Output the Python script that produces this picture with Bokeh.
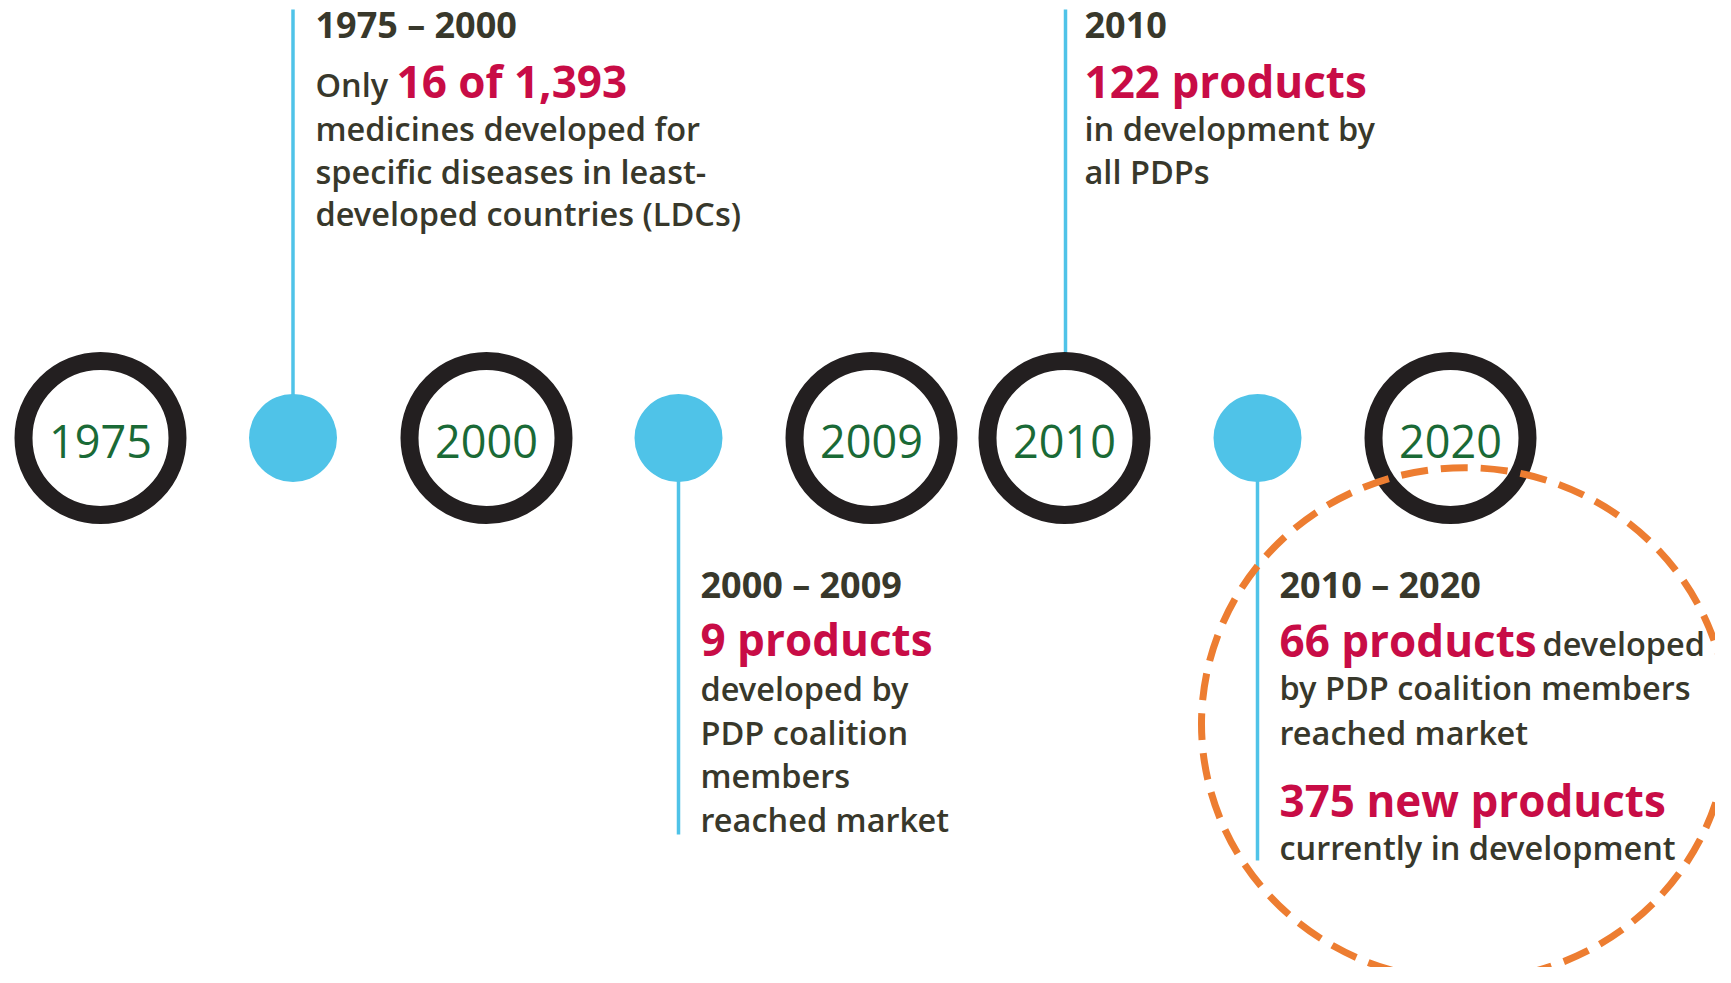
from bokeh.plotting import figure
from bokeh.models import Range1d, ColumnDataSource
from bokeh.core.properties import value
from bokeh.embed import file_html
from bokeh.resources import INLINE

# ---------------- data ----------------
years = ["1975", "2000", "2009", "2010", "2020"]
periods = ["1975 – 2000", "2010", "2000 – 2009", "2010 – 2020"]
lead_in = "Only"
highlights = ["16 of 1,393", "122 products", "9 products", "66 products"]
extra_highlight = "375 new products"
trail_word = "developed"
body_1975_2000 = ["medicines developed for", "specific diseases in least-", "developed countries (LDCs)"]
body_2010 = ["in development by", "all PDPs"]
body_2000_2009 = ["developed by", "PDP coalition", "members", "reached market"]
body_2010_2020 = ["by PDP coalition members", "reached market"]
body_2010_2020_b = ["currently in development"]

# ---------------- styles / layout ----------------
DARK = "#38382b"
RED = "#c80c46"
GREEN = "#1a6a36"
BLUE = "#4fc3e8"
RING = "#231f20"
ORANGE = "#ed7d31"
BODY_FONT = value("'Open Sans SemiBold', 'Open Sans'")
FONT = value("Open Sans")

W, H = 1715, 967
p = figure(width=W, height=H, output_backend="svg", toolbar_location=None,
           x_range=Range1d(0, W), y_range=Range1d(H, 0),
           min_border=0)
p.xaxis.visible = False
p.yaxis.visible = False
p.grid.visible = False
p.outline_line_color = None
p.background_fill_color = "white"
p.border_fill_color = "white"

CY = 437.5
ring_x = [100, 486, 871, 1064, 1450]
dot_x = [292.5, 678, 1257]

# stems
stems = ColumnDataSource(dict(x0=[292.5, 678, 1065, 1257], y0=[9, CY, 9, CY],
                              x1=[292.5, 678, 1065, 1257], y1=[CY, 834, CY, 860]))
p.segment("x0", "y0", "x1", "y1", source=stems, line_color=BLUE, line_width=3.5)

# blue dots
p.circle(x=dot_x, y=[CY] * len(dot_x), radius=44, fill_color=BLUE, line_color=None)

# year rings
p.circle(x=ring_x, y=[CY] * len(ring_x), radius=77, fill_color="white",
         line_color=RING, line_width=18)

# dashed orange highlight
p.ellipse(x=[1464.5], y=[723.5], width=[527], height=[513], fill_color=None,
          line_color=ORANGE, line_width=7, line_dash="27 13")

K = 0.357  # cap-centre offset of the rendered text relative to the baseline


def txt(x, y, t, size, color, bold=False, font=None, align="left"):
    p.text(x=[x], y=[y - K * size], text=[t], text_align=align,
           text_baseline="alphabetic",
           text_font=font if font is not None else (FONT if bold else BODY_FONT),
           text_font_size=f"{size}px", text_color=color,
           text_font_style="bold" if bold else "normal")


for xx, yr in zip(ring_x, years):
    txt(xx, 457, yr, 45, GREEN, font=FONT, align="center")

HEAD = 36
BIG = 44
BODY = 32.5

# block 1975-2000
bx = 315
txt(bx, 37, periods[0], HEAD, DARK, bold=True)
txt(bx, 96, lead_in, BODY, DARK)
txt(396, 96, highlights[0], BIG, RED, bold=True)
for i, line in enumerate(body_1975_2000):
    txt(bx, 140 + 42.5 * i, line, BODY, DARK)

# block 2010
bx = 1084
txt(bx, 37, periods[1], HEAD, DARK, bold=True)
txt(bx, 96, highlights[1], BIG, RED, bold=True)
for i, line in enumerate(body_2010):
    txt(bx, 140 + 42.5 * i, line, BODY, DARK)

# block 2000-2009
bx = 700
txt(bx, 597, periods[2], HEAD, DARK, bold=True)
txt(bx, 654, highlights[2], BIG, RED, bold=True)
for i, line in enumerate(body_2000_2009):
    txt(bx, 700 + 43.5 * i, line, BODY, DARK)

# block 2010-2020
bx = 1279
txt(bx, 597, periods[3], HEAD, DARK, bold=True)
txt(bx, 655, highlights[3], BIG, RED, bold=True)
txt(1542, 655, trail_word, BODY, DARK)
for i, line in enumerate(body_2010_2020):
    txt(bx, 699 + 45 * i, line, BODY, DARK)
txt(bx, 815, extra_highlight, BIG, RED, bold=True)
for i, line in enumerate(body_2010_2020_b):
    txt(bx, 859 + 43 * i, line, BODY, DARK)

open("out.html", "w").write(file_html(p, INLINE))
